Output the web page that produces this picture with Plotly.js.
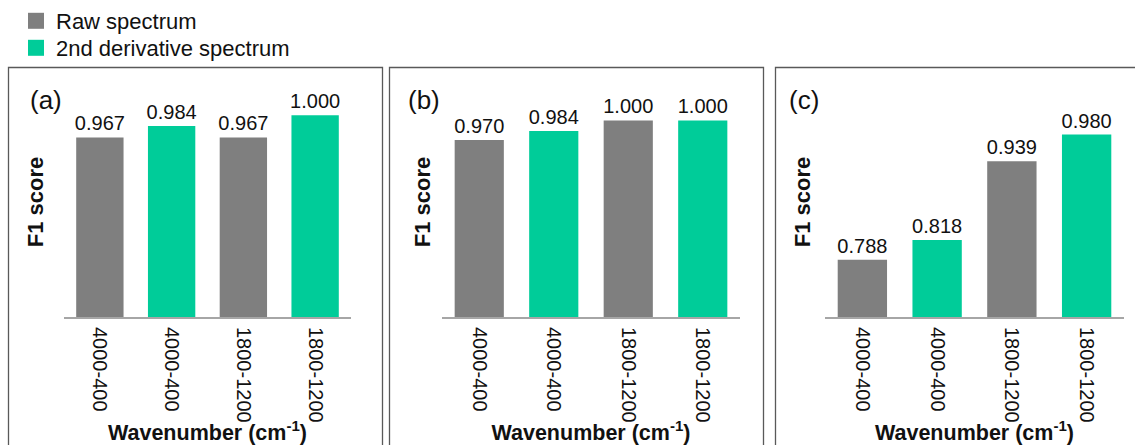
<!DOCTYPE html>
<html>
<head>
<meta charset="utf-8">
<script src="https://cdn.plot.ly/plotly-3.0.1.min.js"></script>
<style>html,body{margin:0;padding:0;background:#fff;}#chart{width:1135px;height:445px;}</style>
</head>
<body>
<div id="chart"></div>
<script>
// ---- data ----
const categories = ['4000-400', '4000-400', '1800-1200', '1800-1200'];
const spectrumType = ['Raw spectrum', '2nd derivative spectrum', 'Raw spectrum', '2nd derivative spectrum'];
const seriesNames = ['Raw spectrum', '2nd derivative spectrum'];
const panelLabels = ['(a)', '(b)', '(c)'];
const f1PanelA = [0.967, 0.984, 0.967, 1.000];
const f1PanelB = [0.970, 0.984, 1.000, 1.000];
const f1PanelC = [0.788, 0.818, 0.939, 0.980];

// ---- style ----
const FONT = 'Liberation Sans, Arial, sans-serif';
const colorMap = {'Raw spectrum': '#7f7f7f', '2nd derivative spectrum': '#00cc99'};
const W = 1135, H = 445;
const px = v => v / W;
const py = v => (H - v) / H;

const panels = [
  {vals: f1PanelA, x0: 64, x1: 351, ymax: 1.042, standoff: 13, box: [8.5, 382.5], lab: 45.5},
  {vals: f1PanelB, x0: 442, x1: 740, ymax: 1.051, standoff: 4, box: [389.5, 763.5], lab: 424},
  {vals: f1PanelC, x0: 825, x1: 1124, ymax: 1.053, standoff: 7, box: [775.5, 1140], lab: 804}
];
const yTop = 87, yBase = 317;
const xIdx = categories.map((c, i) => i);

const legendStyle = (topPx) => ({
  xref: 'paper', yref: 'paper',
  x: px(16), y: py(topPx), xanchor: 'left', yanchor: 'top',
  font: {family: FONT, size: 22, color: '#111'},
  bgcolor: 'rgba(0,0,0,0)', borderwidth: 0,
  itemclick: false, itemdoubleclick: false
});

const data = [];
const layout = {
  width: W, height: H,
  margin: {l: 0, r: 0, t: 0, b: 0, autoexpand: false},
  paper_bgcolor: '#fff', plot_bgcolor: 'rgba(0,0,0,0)',
  font: {family: FONT, color: '#111', size: 20},
  barmode: 'overlay',
  showlegend: true,
  legend: legendStyle(0),
  legend2: legendStyle(27),
  shapes: [],
  annotations: []
};

panels.forEach((p, k) => {
  const s = k === 0 ? '' : String(k + 1);
  data.push({
    type: 'bar',
    x: xIdx, y: p.vals,
    xaxis: 'x' + s, yaxis: 'y' + s,
    width: 0.66,
    marker: {color: spectrumType.map(t => colorMap[t]), line: {width: 0}},
    text: p.vals.map(v => v.toFixed(3)),
    textposition: 'outside',
    constraintext: 'none',
    cliponaxis: false,
    textfont: {family: FONT, size: 20, color: '#111'},
    showlegend: false,
    hoverinfo: 'x+y'
  });
  layout['xaxis' + s] = {
    domain: [px(p.x0), px(p.x1)],
    anchor: 'y' + s,
    range: [-0.5, 3.5],
    tickmode: 'array', tickvals: xIdx, ticktext: categories,
    tickangle: 90, ticks: '', showgrid: false, zeroline: false,
    ticklabelstandoff: 4,
    showline: true, linecolor: '#a6a6a6', linewidth: 2,
    tickfont: {family: FONT, size: 20, color: '#111'},
    title: {text: 'Wavenumber (cm<sup>-1</sup>)', font: {family: FONT, size: 21.5, color: '#111', weight: 'bold'}, standoff: 0},
    automargin: false,
    fixedrange: true
  };
  layout['yaxis' + s] = {
    domain: [py(yBase), py(yTop)],
    anchor: 'x' + s,
    range: [0.7, p.ymax],
    showticklabels: false, ticks: '', showgrid: false, zeroline: false, showline: false,
    title: {text: 'F1 score', font: {family: FONT, size: 22, color: '#111', weight: 'bold'}, standoff: p.standoff},
    automargin: false,
    fixedrange: true
  };
  layout.shapes.push({
    type: 'rect', xref: 'paper', yref: 'paper',
    x0: px(p.box[0]), x1: px(p.box[1]), y0: -0.2, y1: py(67.5),
    line: {color: '#595959', width: 1.3}, fillcolor: 'rgba(0,0,0,0)', layer: 'above'
  });
  layout.annotations.push({
    xref: 'paper', yref: 'paper', x: px(p.lab), y: py(100),
    xanchor: 'center', yanchor: 'middle', showarrow: false,
    text: panelLabels[k], font: {family: FONT, size: 26, color: '#111'}
  });
});

// legend entries (one legend box per series, stacked)
seriesNames.forEach((n, i) => {
  data.push({
    type: 'scatter', mode: 'markers', x: [null], y: [null],
    name: n, xaxis: 'x', yaxis: 'y',
    legend: i === 0 ? 'legend' : 'legend2',
    marker: {symbol: 'square', size: 16, color: colorMap[n], line: {width: 0}},
    showlegend: true, hoverinfo: 'skip'
  });
});

Plotly.newPlot('chart', data, layout, {displayModeBar: false});
</script>
</body>
</html>
